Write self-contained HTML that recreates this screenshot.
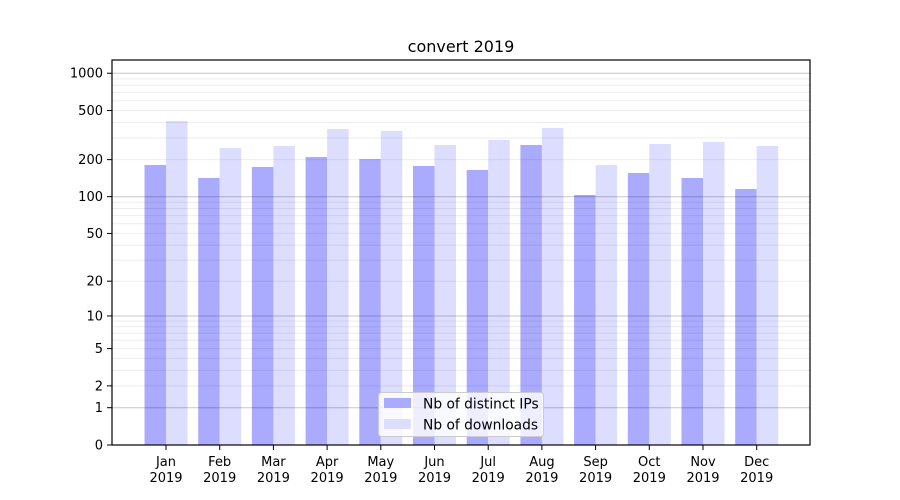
<!DOCTYPE html>
<html><head><meta charset="utf-8"><style>body{margin:0;background:#fff}svg{display:block}text{font-family:"DejaVu Sans","Liberation Sans",sans-serif;fill:#000}</style></head>
<body>
<svg id="s" width="900" height="500" xmlns="http://www.w3.org/2000/svg"></svg>
<script>
const s=document.getElementById('s');let h='';
const Y=v=>445-123.9*Math.log10(1+v);
const ip=[165,178,167,157,159,166,170,145,195,173,178,189];
const dl=[121,148,146,129,131,145,140,128,165,144,142,146];
const m=['Jan','Feb','Mar','Apr','May','Jun','Jul','Aug','Sep','Oct','Nov','Dec'];
h+='<text x="461" y="52" font-size="16" text-anchor="middle">convert 2019</text>';
for(let i=0;i<12;i++){const c=166+i*53.7;
h+=`<rect x="${c-21.5}" y="${ip[i]}" width="21.5" height="${445-ip[i]}" fill="#aaaaff"/>`;
h+=`<rect x="${c}" y="${dl[i]}" width="21.5" height="${445-dl[i]}" fill="#ddddff"/>`;
h+=`<line x1="${c}" y1="445" x2="${c}" y2="450" stroke="#000"/>`;
h+=`<text x="${c}" y="466" font-size="13" text-anchor="middle">${m[i]}</text><text x="${c}" y="482" font-size="13" text-anchor="middle">2019</text>`;}
const minor=[];for(const d of [1,10,100])for(let k=2;k<10;k++)minor.push(k*d);
for(const v of minor){const y=Y(v).toFixed(1);h+=`<line x1="112" x2="810" y1="${y}" y2="${y}" stroke="#000" stroke-opacity="0.07"/>`;}
for(const v of [1,10,100,1000]){const y=Y(v).toFixed(1);h+=`<line x1="112" x2="810" y1="${y}" y2="${y}" stroke="#000" stroke-opacity="0.22"/>`;}
for(const v of [0,1,2,5,10,20,50,100,200,500,1000]){const y=Y(v);h+=`<line x1="107" x2="112" y1="${y}" y2="${y}" stroke="#000"/><text x="103" y="${y+4.5}" font-size="13" text-anchor="end">${v}</text>`;}
h+='<rect x="112" y="60" width="698" height="385" fill="none" stroke="#000" stroke-width="1.2"/>';
h+='<rect x="378.5" y="392.5" width="165" height="44" rx="3" fill="#fff" fill-opacity="0.8" stroke="#ccc"/>';
h+='<rect x="384" y="398" width="27" height="10" fill="#aaaaff"/><text x="423" y="408.5" font-size="13.8">Nb of distinct IPs</text>';
h+='<rect x="384" y="419" width="27" height="10" fill="#ddddff"/><text x="423" y="429.5" font-size="13.8">Nb of downloads</text>';
s.innerHTML=h;
</script>
</body></html>
